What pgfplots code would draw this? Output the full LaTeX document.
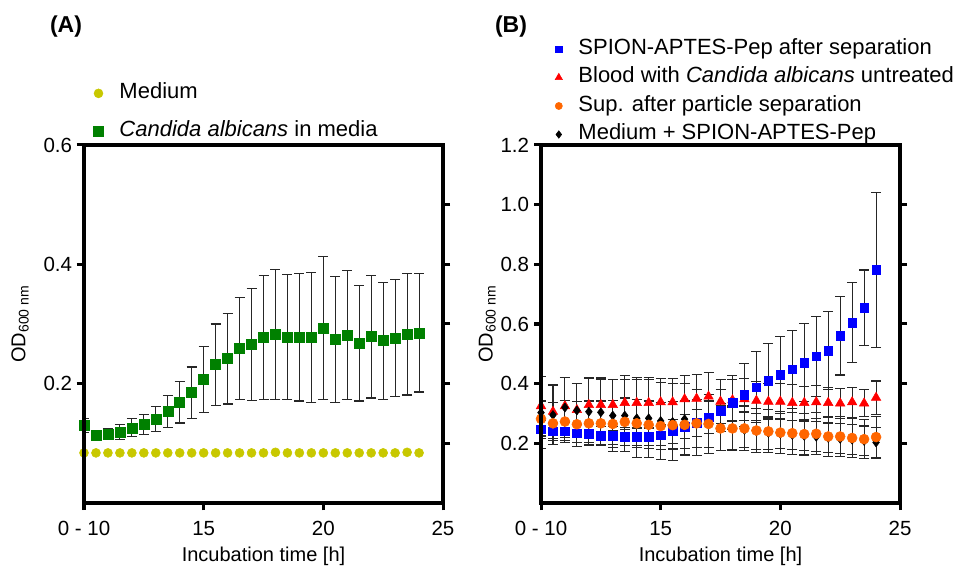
\documentclass[border=0pt]{standalone}
\usepackage{fontspec}
\setmainfont{Liberation Sans}
\usepackage{pgfplots}
\pgfplotsset{compat=1.18}
\usepackage{pgfplotstable}

\definecolor{cgreen}{RGB}{0,128,0}
\definecolor{cyellow}{RGB}{200,200,0}
\definecolor{cblue}{RGB}{0,0,255}
\definecolor{cred}{RGB}{255,0,0}
\definecolor{corange}{RGB}{255,102,0}

\pgfplotstableread{
x y
10 0.084
10.5 0.084
11 0.084
11.5 0.084
12 0.084
12.5 0.084
13 0.084
13.5 0.084
14 0.084
14.5 0.084
15 0.084
15.5 0.084
16 0.084
16.5 0.084
17 0.084
17.5 0.084
18 0.085
18.5 0.084
19 0.084
19.5 0.084
20 0.084
20.5 0.084
21 0.084
21.5 0.084
22 0.084
22.5 0.084
23 0.084
23.5 0.085
24 0.084
}\medium

\pgfplotstableread{
x y e
10 0.130 0.012
10.5 0.113 0.008
11 0.115 0.009
11.5 0.119 0.012
12 0.126 0.015
12.5 0.132 0.017
13 0.141 0.021
13.5 0.153 0.027
14 0.169 0.035
14.5 0.185 0.043
15 0.207 0.055
15.5 0.232 0.068
16 0.242 0.076
16.5 0.259 0.086
17 0.266 0.094
17.5 0.278 0.104
18 0.283 0.109
18.5 0.278 0.105
19 0.278 0.107
19.5 0.278 0.109
20 0.293 0.120
20.5 0.274 0.105
21 0.281 0.108
21.5 0.268 0.097
22 0.279 0.103
22.5 0.272 0.098
23 0.276 0.098
23.5 0.283 0.102
24 0.285 0.099
}\candida

\pgfplotstableread{
x y e
10 0.247 0.030
10.5 0.241 0.030
11 0.240 0.030
11.5 0.234 0.030
12 0.232 0.030
12.5 0.225 0.030
13 0.225 0.030
13.5 0.223 0.030
14 0.223 0.030
14.5 0.223 0.030
15 0.227 0.035
15.5 0.240 0.040
16 0.256 0.040
16.5 0.268 0.045
17 0.287 0.055
17.5 0.310 0.070
18 0.336 0.090
18.5 0.362 0.106
19 0.388 0.119
19.5 0.410 0.125
20 0.429 0.128
20.5 0.448 0.131
21 0.471 0.131
21.5 0.492 0.134
22 0.510 0.131
22.5 0.560 0.131
23 0.605 0.134
23.5 0.654 0.127
24 0.782 0.260
}\bluedata

\pgfplotstableread{
x y e
10 0.325 0.100
10.5 0.306 0.090
11 0.325 0.095
11.5 0.312 0.090
12 0.329 0.090
12.5 0.329 0.090
13 0.329 0.085
13.5 0.336 0.090
14 0.336 0.085
14.5 0.336 0.085
15 0.338 0.080
15.5 0.338 0.080
16 0.348 0.080
16.5 0.350 0.080
17 0.357 0.080
17.5 0.340 0.075
18 0.345 0.070
18.5 0.348 0.070
19 0.343 0.065
19.5 0.340 0.060
20 0.340 0.060
20.5 0.336 0.060
21 0.336 0.055
21.5 0.338 0.055
22 0.336 0.050
22.5 0.334 0.050
23 0.338 0.050
23.5 0.334 0.045
24 0.353 0.056
}\reddata

\pgfplotstableread{
x y e
10 0.282 0.060
10.5 0.267 0.070
11 0.273 0.070
11.5 0.264 0.075
12 0.267 0.075
12.5 0.267 0.075
13 0.265 0.080
13.5 0.272 0.080
14 0.267 0.080
14.5 0.262 0.080
15 0.258 0.080
15.5 0.261 0.080
16 0.262 0.080
16.5 0.267 0.080
17 0.265 0.080
17.5 0.250 0.075
18 0.250 0.075
18.5 0.250 0.075
19 0.243 0.075
19.5 0.240 0.072
20 0.236 0.070
20.5 0.234 0.070
21 0.231 0.070
21.5 0.232 0.070
22 0.223 0.068
22.5 0.223 0.068
23 0.218 0.066
23.5 0.214 0.065
24 0.221 0.070
}\orangedata

\pgfplotstableread{
x y e
10 0.303 0.120
10.5 0.295 0.100
11 0.320 0.100
11.5 0.310 0.090
12 0.306 0.110
12.5 0.304 0.110
13 0.293 0.120
13.5 0.293 0.120
14 0.284 0.130
14.5 0.284 0.130
15 0.275 0.130
15.5 0.272 0.130
16 0.281 0.120
16.5 0.270 0.110
17 0.265 0.100
17.5 0.255 0.080
18 0.250 0.070
18.5 0.245 0.060
19 0.240 0.060
19.5 0.235 0.055
20 0.232 0.050
20.5 0.228 0.050
21 0.225 0.050
21.5 0.222 0.050
22 0.218 0.050
22.5 0.215 0.050
23 0.212 0.050
23.5 0.208 0.050
24 0.203 0.050
}\blackdata

\pgfplotsset{
  every axis/.append style={line width=3.2pt},
  every tick/.append style={line width=3pt, black},
  every major tick/.append style={line width=3pt, black},
  panel/.style={
    scale only axis, width=359pt, height=358pt,
    xmin=10, xmax=25, ymin=0,
    axis x line*=bottom, axis y line*=left,
    axis line style={line width=3.2pt, line cap=rect},
    major tick style={line width=3pt, black},
    major tick length=7pt,
    tick align=outside,
    xtick={10,15,20,25}, xticklabels={0 - 10,15,20,25},
    xticklabel style={yshift=-6pt},
    ticklabel style={font=\fontsize{20.5}{24}\selectfont},
    label style={font=\fontsize{20}{24}\selectfont},
    /pgf/number format/assume math mode=true,
    /pgf/number format/fixed, /pgf/number format/fixed zerofill,
    /pgf/number format/precision=1,
    xlabel={Incubation time [h]},
    ylabel={OD\textsubscript{600 nm}},
    xlabel style={at={(axis description cs:0.5,-0.163)}, anchor=base},
    legend style={draw=none, fill=none, font=\fontsize{22}{26}\selectfont,
      anchor=north west, inner sep=0pt, column sep=16pt,
      nodes={inner sep=0pt, text height=16pt, text depth=5pt}},
    legend cell align=left,
    legend image code/.code={\draw[line width=0.5pt,#1] plot coordinates {(0pt,0pt)};},
  },
  rightax/.style={
    scale only axis, width=359pt, height=358pt,
    xmin=10, xmax=25, ymin=0,
    axis x line*=top, axis y line*=right,
    axis line style={line width=3.2pt, line cap=rect},
    major tick style={line width=3pt, black},
    major tick length=7pt, tick align=outside,
    xtick=\empty,
    yticklabels={},
  },
  leftax/.style={
    scale only axis, width=359pt, height=358pt,
    xmin=10, xmax=25, ymin=0,
    axis x line*=bottom, axis y line*=left,
    axis line style={line width=3.2pt, line cap=rect},
    major tick style={line width=3pt, black},
    major tick length=7pt, tick align=outside,
    xtick={10,15,20,25},
    xticklabels={},
    yticklabels={},
  },
  ebar/.style={/pgfplots/error bars/.cd, y dir=both, y explicit,
    error bar style={line width=1.1pt, black!85},
    error mark options={rotate=90, mark size=5pt, line width=1.1pt, black!85},
    /pgfplots/.cd},
}

\begin{document}
\begin{tikzpicture}
\useasboundingbox (0pt,0pt) rectangle (975pt,571pt);

% Panel A
\begin{axis}[panel, name=pa, at={(84pt,68pt)}, anchor=south west,
  ymax=0.6, ytick={0.2,0.4,0.6},
  ylabel style={at={(axis description cs:-0.178,0.5)}, anchor=center},
  legend style={at={(axis description cs:0.022,1.178)}, row sep=17pt},
]
\addplot[only marks, mark=*, mark size=4.5pt, color=cyellow, line width=0.5pt] table[x=x,y=y]{\medium};
\addlegendentry{Medium}
\addplot[only marks, mark=square*, mark size=5pt, color=cgreen, line width=0.5pt, ebar] table[x=x,y=y,y error=e]{\candida};
\addlegendentry{\textit{Candida albicans} in media}
\end{axis}
\begin{axis}[rightax, at={(84pt,68pt)}, anchor=south west,
  ymax=0.6, ytick={0.1,0.2,0.3,0.4,0.5}]
\end{axis}
\begin{axis}[leftax, at={(84pt,68pt)}, anchor=south west,
  ymax=0.6, ytick={0.2,0.4,0.6}]
\end{axis}

% Panel B
\begin{axis}[panel, name=pb, at={(541pt,68pt)}, anchor=south west,
  ymax=1.2, ytick={0.2,0.4,0.6,0.8,1.0,1.2},
  ylabel style={at={(axis description cs:-0.150,0.5)}, anchor=center},
  legend style={at={(axis description cs:0.035,1.302)}, row sep=7.5pt},
]
\addlegendimage{only marks, mark=square*, mark size=3.2pt, color=cblue}
\addlegendentry{SPION-APTES-Pep after separation}
\addlegendimage{only marks, mark=triangle*, mark size=4.2pt, color=cred}
\addlegendentry{Blood with \textit{Candida albicans} untreated}
\addlegendimage{only marks, mark=*, mark size=3.6pt, color=corange}
\addlegendentry{Sup. after particle separation}
\addlegendimage{only marks, mark=diamond*, mark size=3.8pt, color=black}
\addlegendentry{Medium + SPION-APTES-Pep}
\addplot[forget plot, only marks, mark=triangle*, mark size=5.5pt, color=cred, line width=0.5pt, ebar] table[x=x,y=y,y error=e]{\reddata};
\addplot[forget plot, only marks, mark=diamond*, mark size=4.5pt, color=black, line width=0.5pt, ebar] table[x=x,y=y,y error=e]{\blackdata};
\addplot[forget plot, only marks, mark=square*, mark size=4.3pt, color=cblue, line width=0.5pt, ebar] table[x=x,y=y,y error=e]{\bluedata};
\addplot[forget plot, only marks, mark=*, mark size=5pt, color=corange, line width=0.5pt, ebar] table[x=x,y=y,y error=e]{\orangedata};
\end{axis}
\begin{axis}[rightax, at={(541pt,68pt)}, anchor=south west,
  ymax=1.2, ytick={0.2,0.4,0.6,0.8,1.0}]
\end{axis}
\begin{axis}[leftax, at={(541pt,68pt)}, anchor=south west,
  ymax=1.2, ytick={0.2,0.4,0.6,0.8,1.0,1.2}]
\end{axis}

\draw[line width=3.2pt, line join=miter] (pa.south west) rectangle (pa.north east);
\draw[line width=3.2pt, line join=miter] (pb.south west) rectangle (pb.north east);

\node[font=\fontsize{23}{27}\selectfont\bfseries] at (66pt,544pt) {(A)};
\node[font=\fontsize{23}{27}\selectfont\bfseries] at (511pt,544pt) {(B)};
\end{tikzpicture}
\end{document}
